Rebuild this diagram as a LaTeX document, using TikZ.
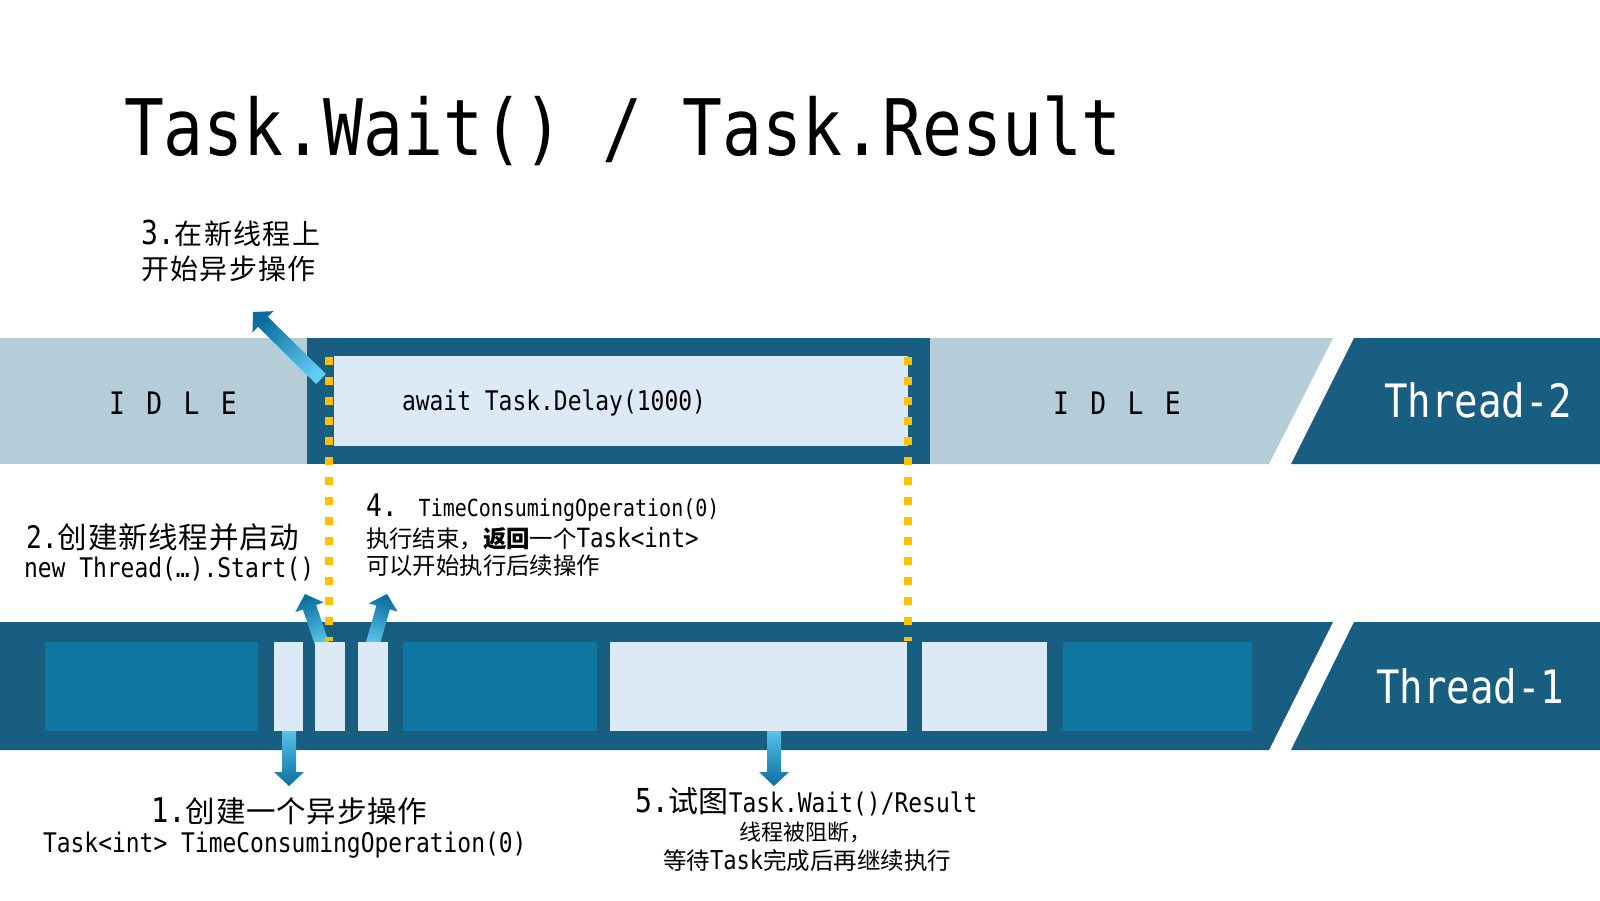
\documentclass[tikz,border=0pt]{standalone}
\usepackage{fontspec}
\newfontfamily\mono[FakeStretch=0.85]{DejaVu Sans Mono}
\newfontfamily\cjk{Noto Sans CJK SC}
\usetikzlibrary{calc}
\definecolor{band}{HTML}{175E80}
\definecolor{tealblk}{HTML}{0E76A0}
\definecolor{lightblk}{HTML}{DCE9F6}
\definecolor{idle}{HTML}{B4CDD8}
\definecolor{dotyellow}{HTML}{FFC000}
\definecolor{arrlight}{HTML}{62CDF3}
\definecolor{arrmid}{HTML}{14A6DE}
\definecolor{arrdark}{HTML}{0B6E9F}
\newcommand\mf[1]{\mono\fontsize{#1}{#1}\selectfont}
\newcommand\cf[1]{\cjk\fontsize{#1}{#1}\selectfont}
\newcommand\cfs[2]{\cjk\addfontfeature{LetterSpace=#2}\fontsize{#1}{#1}\selectfont}
\newcommand\cb[1]{\makebox[30.3pt][l]{#1}}
\newcommand\gradarrow[3]{%
  \coordinate (ga-b) at ($(#2)!14pt!(#1)$);
  \shade[top color=arrdark, middle color=arrmid, bottom color=arrlight, shading angle=#3]
    ($(#1)!7pt!90:(#2)$) -- ($(ga-b)!7pt!-90:(#1)$) -- ($(ga-b)!15pt!-90:(#1)$) -- (#2)
    -- ($(ga-b)!15pt!90:(#1)$) -- ($(ga-b)!7pt!90:(#1)$) -- ($(#1)!7pt!-90:(#2)$) -- cycle;
}
\tikzset{
  blk/.style={draw=none, inner sep=0pt, outer sep=0pt, anchor=north west, minimum height=89pt},
  txt/.style={inner sep=0pt, outer sep=0pt, anchor=base west, text=black},
  dotline/.style={draw=dotyellow, line width=8.5pt, dash pattern=on 8pt off 12pt},
}
\begin{document}
\begin{tikzpicture}[x=1pt,y=-1pt]
\useasboundingbox[fill=white] (0,0) rectangle (1600,900);

% title
\node[txt] (title) at (124,155) {\mf{78}Task.Wait() / Task.Result};

% ---- Thread-2 band
\fill[idle] (0,338) rectangle (307,464);
\fill[band] (307,338) rectangle (930,464);
\fill[idle] (930,338) -- (1333,338) -- (1269,464) -- (930,464) -- cycle;
\fill[band] (1354,338) -- (1600,338) -- (1600,464) -- (1291,464) -- cycle;

% ---- Thread-1 band
\fill[band] (0,622) -- (1333,622) -- (1269,750) -- (0,750) -- cycle;
\fill[band] (1354,622) -- (1600,622) -- (1600,750) -- (1291,750) -- cycle;

% arrow 3 (tail at the delay box)
\coordinate (a3tail) at (321,379);
\coordinate (a3tip) at (253,312);
\gradarrow{a3tail}{a3tip}{45}

% delay box
\node[blk, fill=lightblk, minimum width=574pt, minimum height=90pt] (delay) at (334,356) {};
\node[txt] (delaytxt) at (402,410) {\mf{27}await Task.Delay(1000)};

% idle labels
\node[txt] (idle1) at (109,414) {\mf{31}I\hspace{21.4pt}D\hspace{21.4pt}L\hspace{21.4pt}E};
\node[txt] (idle2) at (1053,414) {\mf{31}I\hspace{21.4pt}D\hspace{21.4pt}L\hspace{21.4pt}E};

% thread labels
\node[txt, text=white] (th2) at (1384,417) {\mf{46}Thread-2};
\node[txt, text=white] (th1) at (1376,703) {\mf{46}Thread-1};

% arrows from Thread-1 blocks (drawn below blocks)
\coordinate (a2atail) at (324,650);
\coordinate (a2atip) at (305,594);
\coordinate (a2btail) at (371,650);
\coordinate (a2btip) at (387,594);
\coordinate (a1tail) at (289,724);
\coordinate (a1tip) at (289,786);
\coordinate (a5tail) at (774,724);
\coordinate (a5tip) at (774,786);
\gradarrow{a2atail}{a2atip}{20}
\gradarrow{a2btail}{a2btip}{-17}
\gradarrow{a1tail}{a1tip}{180}
\gradarrow{a5tail}{a5tip}{180}

% Thread-1 blocks
\node[blk, fill=tealblk, minimum width=213pt] (bA) at (45,642) {};
\node[blk, fill=lightblk, minimum width=29pt] (bB) at (274,642) {};
\node[blk, fill=lightblk, minimum width=30pt] (bC) at (315,642) {};
\node[blk, fill=lightblk, minimum width=30pt] (bD) at (358,642) {};
\node[blk, fill=tealblk, minimum width=194pt] (bE) at (403,642) {};
\node[blk, fill=lightblk, minimum width=297pt] (bF) at (610,642) {};
\node[blk, fill=lightblk, minimum width=125pt] (bG) at (922,642) {};
\node[blk, fill=tealblk, minimum width=189pt] (bH) at (1063,642) {};

% dotted yellow lines
\coordinate (dl1top) at (329,357);
\coordinate (dl1bot) at (329,641);
\coordinate (dl2top) at (908,357);
\coordinate (dl2bot) at (908,641);
\draw[dotline] (dl1top) -- (dl1bot);
\draw[dotline] (dl2top) -- (dl2bot);

% label 3
\node[txt] (l3a) at (141,244) {{\mf{33}3.}{\cfs{28}{5}在新线程上}};
\node[txt] (l3b) at (141,279) {\cfs{28}{5}开始异步操作};

% label 2
\node[txt] (l2a) at (26,548) {{\mf{31}2.}{\cf{29.5}\cb{创}\cb{建}\cb{新}\cb{线}\cb{程}\cb{并}\cb{启}\cb{动}}};
\node[txt] (l2b) at (24,577) {\mf{27}new Thread(…).Start()};

% label 4
\node[txt] (l4a) at (366,516) {{\mf{31}4.}\hspace{21pt}{\mf{23.5}TimeConsumingOperation(0)}};
\node[txt] (l4b) at (366,547) {{\cf{23.4}执行结束，{\bfseries 返回}一个}{\mf{26.5}Task<int>}};
\node[txt] (l4c) at (366,574) {\cf{23.4}可以开始执行后续操作};

% label 1
\node[txt] (l1a) at (151,822) {{\mf{34}1.}{\cf{29.5}\cb{创}\cb{建}\cb{一}\cb{个}\cb{异}\cb{步}\cb{操}\cb{作}}};
\node[txt] (l1b) at (43,852) {\mf{27}Task<int> TimeConsumingOperation(0)};

% label 5
\node[txt] (l5a) at (635,812) {{\mf{33}5.}{\cf{30}试图}{\mf{27}Task.Wait()/Result}};
\node[txt] (l5b) at (739,840) {\cf{22}线程被阻断，};
\node[txt] (l5c) at (663,869) {{\cf{23.5}等待}{\mf{26}Task}{\cf{23.5}完成后再继续执行}};
\end{tikzpicture}
\end{document}
